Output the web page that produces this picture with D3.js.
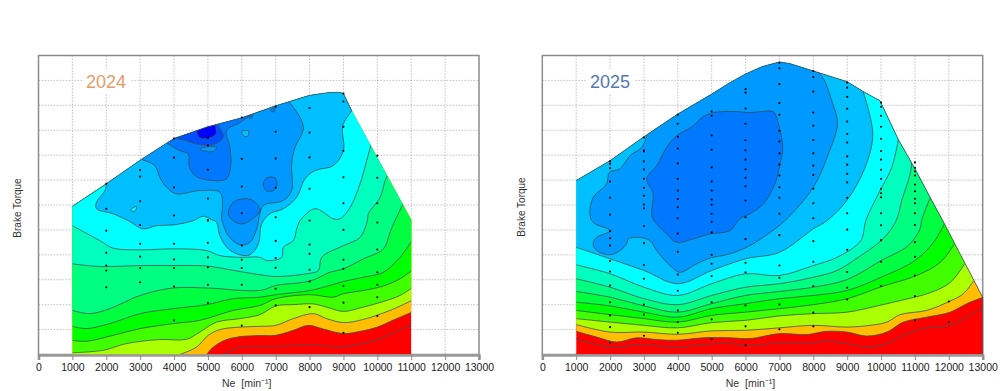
<!DOCTYPE html>
<html><head><meta charset="utf-8">
<script src="https://cdnjs.cloudflare.com/ajax/libs/d3/7.8.5/d3.min.js"></script>
<style>html,body{margin:0;background:#fff}svg{display:block}</style></head>
<body><svg id="c" width="1000" height="391"></svg>
<script>
const xTicks=[0,1000,2000,3000,4000,5000,6000,7000,8000,9000,10000,11000,12000,13000];
const yGrid=[10,20,30,40,50,60,70,80,90,100,110];
const bandColors=["#ffbf00","#aaff00","#40ff00","#00ff00","#00ff40","#00ff80","#00ffbf","#00ffff","#00bfff","#0099ff"];

// ===== 2024 =====
const outline24=[[1000,59.5],[2000,68.5],[3000,78],[4000,86.7],[5000,91.4],[6000,95],[7000,99.8],[8000,104],[8600,105.2],[8900,105.2],[9000,104.7],[9244,97.8],[11000,54],[11000,0],[1000,0]];
const inner24=[[5450,0],[5945,3],[6240,3.3],[7000,3.3],[8000,3.7],[9000,3.2],[9490,4.2],[10000,6],[10500,8.8],[11020,12]];
const red24=[[4960,0],[5160,3],[5550,6],[6040,7.3],[6535,7.6],[7000,7.7],[7520,9.7],[7960,11.7],[8360,10.4],[9000,8.4],[9490,9.3],[10000,11],[10500,14],[11020,17]];
const g24=[[4170,0],[4665,3],[5010,7.7],[5350,10],[5945,11],[6535,11.3],[7000,11.7],[7520,14.4],[8110,16.4],[8505,14.4],[9000,12.8],[9590,14.1],[10375,17.7],[11020,21.7]];
const f24=[[1000,.7],[1910,1.7],[2600,4.4],[3580,6],[4370,6.1],[4760,9],[5255,13],[5945,14.4],[6535,16],[7000,19.5],[7520,20],[8110,20.3],[8505,19],[9000,17.3],[9490,18.7],[10180,21.3],[10670,23.7],[11020,26.7]];
const e24=[[1000,5.7],[1415,5.3],[2200,7.7],[3000,10.4],[3975,12.4],[4760,13.7],[5745,17.7],[6535,19.7],[7000,22.4],[8015,24],[8700,23],[9000,24.4],[9590,25.7],[10180,27.5],[10670,30.4],[11020,33.7]];
const d24=[[1000,11.3],[1415,10.4],[2105,12.4],[3000,16.4],[3975,18.4],[4960,20],[5745,22.4],[6535,23],[7000,24],[8015,25.7],[8600,27.7],[9000,29.3],[9590,31],[10180,33],[10670,39],[11020,45.7]];
const c24=[[1000,17.7],[1515,16.4],[2105,18.4],[3000,23.7],[3975,26.7],[4960,26.7],[6535,25.7],[7000,27.7],[8015,29.5],[8600,33],[9000,34.4],[9590,38.4],[10180,42.4],[10375,49],[10520,53.7],[10770,60.5],[10830,61.5]];
const b24=[[1000,36.4],[1810,35.3],[3000,35.7],[3975,35.7],[4960,35.5],[5945,33.3],[6535,32],[7000,31.3],[7915,32.4],[8260,33.7],[8360,39],[9000,43.7],[9490,47],[9705,53.7],[9735,56.5],[10080,63],[10230,69.8],[10320,72.5]];
const a24=[[1000,51.7],[1810,45.7],[2200,42.7],[3000,42],[3975,42.4],[4960,41.7],[5350,39.7],[5945,39],[6535,39],[6735,37.7],[7180,39],[7225,43],[7520,45.7],[7620,50.4],[7720,53.7],[8160,58.5],[8700,54.5],[8900,54.5],[9195,59],[9490,68.5],[9685,77.8],[9830,85]];
const top24=[[2000,69],[1960,65.8],[1710,61.1],[1710,58.5],[2200,56.5],[2650,53.7],[3090,50.4],[3480,51.7],[3975,52],[4565,53.7],[4860,55.5],[5110,54.1],[5255,53],[5350,47.7],[5600,42.4],[5945,40],[6240,40],[6490,44.4],[6585,52.4],[6830,56.5],[7225,58.5],[7620,63.1],[7865,70.5],[8160,73.8],[8700,75.8],[9000,81.8],[8980,91.8],[9260,98]];
const bf24=[[3050,78.2],[3435,75.8],[3580,71.1],[3780,67.1],[4075,64.5],[4760,65.8],[5355,65.1],[5430,60.5],[5400,54.5],[5430,53],[5600,47.7],[5945,44],[6240,45],[6440,50.4],[6520,55.7],[6635,59.8],[7225,61.8],[7470,65.8],[7470,76.5],[7570,83.1],[7815,90.5],[7720,95.1],[7375,101.8]];
const i24=[[3780,85],[4170,81.8],[4420,80.5],[4450,75.1],[4665,71.4],[5155,69.8],[5550,70.5],[5670,75.1],[5650,83.1],[5550,89.8],[5945,93.1],[6420,97.5]];
const j24=[[3955,87],[4320,86],[4665,84.5],[5155,84.2],[5450,87.1],[5400,89.8],[5235,93]];
const k24=[[4640,90.5],[4760,87.1],[5010,86.9],[5235,88.5],[5205,92.5]];
const islands24=[
 {color:"#0080ff",pts:[[5600,56.5],[5745,61.1],[6040,62.5],[6335,61.8],[6535,57.8],[6240,53.7],[5990,52.4],[5745,53.7]]},
 {color:"#0080ff",pts:[[6635,68.5],[6735,70.9],[6980,70.9],[7030,67.8],[6930,65.8],[6715,65.8]]},
 {color:"#0099ff",pts:[[4760,82.5],[5010,83.4],[5255,83.1],[5155,81.5],[4860,81.8]]},
 {color:"#00bfff",pts:[[5990,89.4],[6190,89.8],[6190,87.8],[6090,87.5]]},
 {color:"#00ffff",pts:[[2715,58],[2890,59.4],[2845,57.5]]},
 {color:"#0080ff",pts:[[6835,98],[6980,99.1],[6950,97.4]]},
 {color:"#0080ff",pts:[[6240,95.8],[6320,95.8],[6240,94.5]]}];
const dotRpm24=[2000,3000,4000,5000,6000,7000,8000,9000,10000];
const dotTorque24=[
 [68.5,58.5,49.7,40.8,35.7,33.7,27],
 [74,71.4,61.5,52,44.4,39.3,34.7,29],
 [86.7,79,67,55.8,44.4,38.1,34.7,27.3,13.7],
 [86.9,83.9,74.1,62.6,54,53.7,44.8,39,35,28,20.7],
 [95.1,78.5,67.4,56.7,43.7,38,34.7,28,11.6],
 [99.5,89.4,78.7,66.9,55.1,45.6,38.7,34.8,26.4,19.7],
 [98.9,89.1,79.1,66.5,53.8,44.1,40.4,34,29.3,19],
 [104.7,101.5,91.4,81.8,71.1,60.7,50,38,34.4,27.5,20.8,8.7],
 [79.8,70.9,60.7,53,42.1,33,28,23,15.5]];

// ===== 2025 =====
const outline25=[[1000,69.8],[2000,77.8],[3000,87.4],[4000,96.5],[5000,104.5],[5500,108.8],[6000,112.6],[6500,115.6],[7000,117.4],[7300,116.8],[8000,113.8],[9000,109.5],[9480,105.5],[9970,101.8],[10500,86.5],[11000,74.5],[11450,63],[11810,54],[13000,23],[13000,0],[1000,0]];
const inner25=[[1000,6.4],[1605,4],[2195,2.8],[2785,4],[3375,3.5],[3965,2.9],[4750,4],[5540,4.4],[6135,3.5],[7000,4.8],[7810,4.4],[8400,5.3],[8990,4.4],[9580,3],[10170,4.4],[10660,7.7],[11350,10.7],[12040,11.7],[12530,15],[13020,19]];
const red25=[[1000,9.3],[1605,7],[2195,5],[2785,6.7],[3375,6],[3965,5.7],[4750,6.7],[5540,6.7],[6135,6.4],[7000,8.4],[7810,8],[8400,9.3],[8990,9],[9580,7.4],[10170,9],[10660,13],[11350,15],[12040,17],[12530,20.4],[13020,23]];
const g25=[[1000,12],[2000,9],[3000,9],[4000,8.1],[5000,9.5],[6000,9.7],[7000,10.7],[8000,11.7],[8990,11],[9680,11.7],[10170,13],[10560,16],[11350,17.7],[12010,21.3],[12430,24.4],[12730,29.5]];
const f25=[[1000,14.4],[2000,13],[3000,11.7],[4000,10.7],[5000,12.8],[6000,13.7],[7000,15.5],[8000,16.4],[9000,17],[9950,19.7],[10450,21.3],[11450,24.8],[12050,29],[12470,36.5]];
const e25=[[1000,17.7],[2000,16],[3000,14.4],[4000,13],[5000,15.7],[6000,17],[7000,18.4],[8000,20],[9000,22.4],[10070,27.5],[11050,31.7],[11750,37],[12170,44.5]];
const d25=[[1000,21],[2000,19.5],[3000,17],[4000,15],[5000,18.4],[6000,20.4],[7000,22.4],[8000,23.7],[9000,25.7],[10000,31],[11000,37.7],[11550,45],[11870,52.5]];
const c25=[[1000,25.3],[2000,23],[3000,19.5],[4000,17],[5000,20.4],[6000,23.7],[7000,25.3],[8000,27],[9000,30.1],[10000,37.7],[10800,43.7],[11150,50.4],[11200,54],[11470,63.5]];
const b25=[[1000,30.4],[2000,27],[3000,22.4],[4000,20],[5000,23.7],[6000,27],[7000,28.4],[8000,31],[8700,33.7],[9400,39.7],[10000,45.7],[10365,51.7],[10500,55.7],[10610,61.8],[10860,72.5],[10910,78]];
const a25=[[1000,36],[2000,32.4],[3000,27],[4000,23.7],[5000,28.4],[6000,32.4],[7000,31.7],[8000,35.7],[8700,39],[9400,45.7],[9550,53.7],[9920,64.5],[10315,75.1],[10520,87]];
const top25=[[1000,43],[2000,38.4],[3000,33.7],[4000,28.4],[5000,33.7],[6000,38.4],[7000,41],[8000,50.4],[8400,53.7],[8990,61.8],[9530,75.1],[9755,88.5],[9460,106]];
const bf25=[[3100,88],[2930,83.1],[2590,79.8],[2290,74.5],[1980,73.1],[1900,68.5],[1505,63.1],[1405,56.5],[1500,53],[2000,49.7],[1605,47],[1500,44.4],[1605,41.7],[2000,40],[2295,41.7],[2490,44.4],[2540,46.4],[2835,47],[3180,45.7],[3375,41.7],[3770,35.7],[4065,33],[4555,36.4],[4950,38.7],[5540,40.4],[6130,43.7],[6725,49],[7170,53.8],[8000,67.1],[8445,80.5],[8710,92.5],[8545,101.8],[8250,111.8],[8000,114.5]];
const islands25=[
 {color:"#0078ff",pts:[[3080,70.5],[3375,75.8],[3670,83.1],[3965,87.8],[4460,91.8],[4705,95.1],[5050,97.1],[5735,97.5],[6135,97.1],[6480,97.5],[6825,97.4],[6970,92.5],[7100,83.1],[7020,76.5],[6870,68.5],[6530,60.5],[6135,56.5],[5835,54.5],[5540,49.7],[4950,48.4],[4455,46.4],[3965,45],[3670,48.4],[3375,52.4],[3230,55.7],[3275,64.5]]}];
const dotRpm25=[2000,3000,4000,5000,6000,7000,8000,9000,10000,11000,12000];
const dotTorque25=[
 [77.5,76.5,74.8,69.4,62.9,56.2,49.5,46.7,43.7,37.5,33.3,27.7,21,15.7,11,4.7],
 [87.1,82,81.5,77.5,74.2,70.5,66.9,63.7,60.2,58.7,51.6,44.7,35.9,30.4,20,16,7.5],
 [96.2,92.6,87.4,82.7,76.7,70.5,65.8,62.4,59.1,54.7,48.5,41.2,32.1,25.6,17.7,13,8.7],
 [97.5,95.8,87.9,82.2,75.1,69.4,65.8,62.2,60.1,56.5,53.3,49,40,36.4,31.5,21,14.1,6.1],
 [106.5,105.1,98.7,92.6,86,82,78.2,74.3,70.9,67.5,61.8,55.1,46.3,36.8,33,19.7,11.3,3.7],
 [117.1,114.9,108.5,100.9,96.2,89.8,85.5,80.7,76.2,71.8,67.1,62.9,56.5,47.9,35.7,30.8,20.1,10.1],
 [113.8,111.4,105.5,97.1,91.8,86.1,80.7,75.8,72.1,66.5,60.7,54.7,45.5,37.2,27.5,16.8,11.3],
 [109.1,107.1,103.4,98.6,93.5,88.5,85.1,79.5,76.2,72.5,69.1,62.9,56.7,50.1,42,33.1,26.8,22.1],
 [101.1,99.4,95.8,91.4,86.6,81.7,78.2,74.1,70.5,66.5,64.7,63.1,56.7,51.9,45.9,37.2,27.5],
 [77.1,74.9,73.5,71.8,68.2,65.5,62.5,60.7,56.7,52,45.1,39.2,31.7,23.5,13.7],
 [21.3,13]];

const svg=d3.select("#c");
function chart(o){
  const x=d3.scaleLinear([0,13000],o.xr), y=d3.scaleLinear([0,120],[354.5,55.5]);
  const g=svg.append("g");
  g.append("g").selectAll("line").data(xTicks.slice(1,-1)).join("line")
    .attr("x1",d=>x(d)).attr("x2",d=>x(d)).attr("y1",y(120)).attr("y2",y(0));
  g.append("g").selectAll("line").data(yGrid).join("line")
    .attr("x1",x(0)).attr("x2",x(13000)).attr("y1",d=>y(d)).attr("y2",d=>y(d));
  g.selectAll("line").attr("stroke","#bcbcbc").attr("stroke-width",1).attr("stroke-dasharray","1.4 1.6");
  g.append("rect").attr("x",o.labX-24).attr("y",69).attr("width",48).attr("height",24).attr("fill","#fff");
  g.append("text").attr("x",o.labX).attr("y",87.5).attr("text-anchor","middle")
    .attr("font-family","'Liberation Sans',Arial,sans-serif").attr("font-size",18).attr("fill",o.labColor).text(o.title);
  g.append("rect").attr("x",x(0)).attr("y",y(120)).attr("width",x(13000)-x(0)).attr("height",y(0)-y(120))
    .attr("fill","none").attr("stroke","#8c8c8c").attr("stroke-width",1.5);
  const id="clip"+o.title;
  const poly=d3.line().x(d=>x(d[0])).y(d=>y(d[1]));
  svg.append("defs").append("clipPath").attr("id",id).append("path").attr("d",poly(o.outline)+"Z");
  const area=g.append("g").attr("clip-path",`url(#${id})`);
  area.append("path").attr("d",poly(o.outline)+"Z").attr("fill","#ff0000");
  const cv=d3.line().x(d=>x(d[0])).y(d=>y(d[1])).curve(d3.curveCatmullRom.alpha(.5));
  const cl=d3.line().x(d=>x(d[0])).y(d=>y(d[1])).curve(d3.curveCatmullRomClosed.alpha(.5));
  const stroke="#3c5054";
  o.bands.forEach(b=>{
    const p=b.pts, a=p[0], z=p[p.length-1];
    const close=a[1]<0.5
      ?[[z[0],125],[0,125],[0,-5],[a[0],-5]]
      :[[z[0],125],[a[0],125]];
    const d=cv(p)+close.map(q=>"L"+x(q[0])+","+y(q[1])).join("")+"Z";
    area.append("path").attr("d",d).attr("fill",b.color);
    area.append("path").attr("d",cv(p)).attr("fill","none").attr("stroke",stroke).attr("stroke-width",.8);
  });
  o.islands.forEach(b=>{
    area.append("path").attr("d",cl(b.pts)).attr("fill",b.color).attr("stroke",stroke).attr("stroke-width",.8);
  });
  area.append("path").attr("d",cv(o.inner)).attr("fill","none").attr("stroke",stroke).attr("stroke-width",.8);
  g.append("path").attr("d",poly(o.outline.slice(0,o.outlineTop))).attr("fill","none").attr("stroke","#3a4a58").attr("stroke-width",.8);
  const dots=o.dotRpm.flatMap((r,i)=>o.dotTorque[i].map(t=>[r,t]));
  g.append("g").selectAll("circle").data(dots).join("circle")
    .attr("cx",d=>x(d[0])).attr("cy",d=>y(d[1])).attr("r",1.05).attr("fill","#000");
  const ax=g.append("g").attr("transform",`translate(0,${y(0)+.5})`)
    .call(d3.axisBottom(x).tickValues(xTicks).tickFormat(d3.format("d")).tickSize(5).tickPadding(4));
  ax.select(".domain").attr("stroke","#9a9a9a").attr("stroke-width",2.6);
  ax.selectAll(".tick line").attr("stroke","#8a8a8a");
  ax.selectAll("text").attr("font-family","'Liberation Sans Narrow','Liberation Sans',sans-serif").attr("font-size",10.5).attr("fill","#1c1c1c");
  g.append("text").attr("x",(x(0)+x(13000))/2-12).attr("y",386.5).attr("text-anchor","middle")
    .attr("font-family","'Liberation Sans',sans-serif").attr("font-size",10.5).attr("fill","#333")
    .attr("xml:space","preserve").text("Ne  [min\u207B\u00B9]");
  g.append("text").attr("transform",`translate(${x(0)-17.5},${o.yLabY}) rotate(-90)`).attr("text-anchor","middle")
    .attr("font-family","'Liberation Sans',sans-serif").attr("font-size",10).attr("fill","#333").text("Brake Torque");
}
const names24=[red24,g24,f24,e24,d24,c24,b24,a24,top24,bf24];
const names25=[red25,g25,f25,e25,d25,c25,b25,a25,top25,bf25];
chart({title:"2024",labColor:"#e39c68",labX:106,xr:[38.5,479],yLabY:208,outline:outline24,outlineTop:12,inner:inner24,
  bands:[...names24.map((p,i)=>({pts:p,color:bandColors[i]})),{pts:i24,color:"#0078ff"},{pts:j24,color:"#0050ff"},{pts:k24,color:"#0000ff"}],
  islands:islands24,dotRpm:dotRpm24,dotTorque:dotTorque24});
chart({title:"2025",labColor:"#5577b5",labX:610,xr:[542.3,982.7],yLabY:207,outline:outline25,outlineTop:20,inner:inner25,
  bands:names25.map((p,i)=>({pts:p,color:bandColors[i]})),
  islands:islands25,dotRpm:dotRpm25,dotTorque:dotTorque25});
</script></body></html>
